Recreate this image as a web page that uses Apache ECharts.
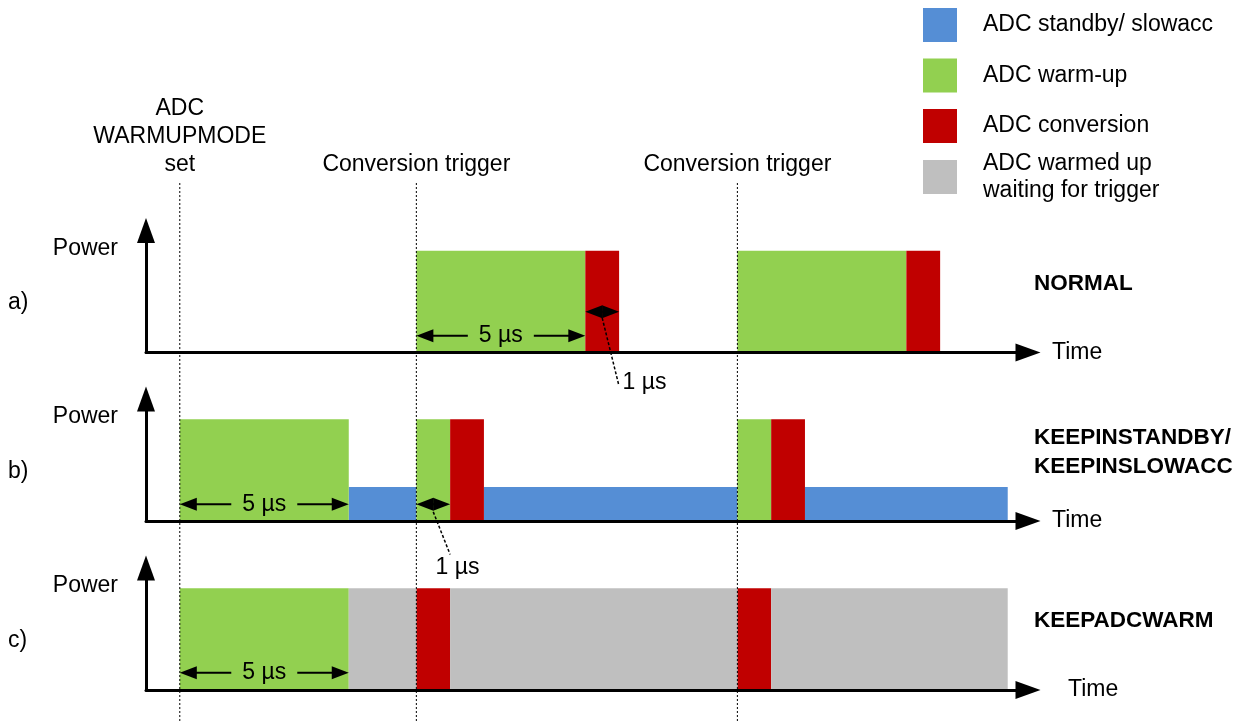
<!DOCTYPE html>
<html>
<head>
<meta charset="utf-8">
<title>ADC warm-up modes</title>
<script src="https://cdn.jsdelivr.net/npm/echarts@6/dist/echarts.min.js"></script>
<style>
  html, body { margin: 0; padding: 0; background: #fff; }
  #chart { width: 1252px; height: 721px; }
</style>
</head>
<body>
<div id="chart"></div>
<script>
// ADC states, in legend order
const stateNames = ['ADC standby/ slowacc', 'ADC warm-up', 'ADC conversion', 'ADC warmed up\nwaiting for trigger'];
const stateColors = ['#558ed5', '#92d050', '#c00000', '#bfbfbf'];
const stateLevels = [1 / 3, 1, 1, 1];

// segments per mode: [start µs, end µs, state index]
const normalSegments = [[7, 12, 1], [12, 13, 2], [16.5, 21.5, 1], [21.5, 22.5, 2]];
const standbySegments = [[0, 5, 1], [5, 7, 0], [7, 8, 1], [8, 9, 2], [9, 16.5, 0], [16.5, 17.5, 1], [17.5, 18.5, 2], [18.5, 24.5, 0]];
const warmSegments = [[0, 5, 1], [5, 7, 3], [7, 8, 2], [8, 16.5, 3], [16.5, 17.5, 2], [17.5, 24.5, 3]];

const panelLetters = ['a)', 'b)', 'c)'];
const modeLabels = ['NORMAL', 'KEEPINSTANDBY/\nKEEPINSLOWACC', 'KEEPADCWARM'];

// dotted event markers
const markerTimes = [0, 7, 16.5];
const markerLabels = ['ADC\nWARMUPMODE\nset', 'Conversion trigger', 'Conversion trigger'];

// dimension arrows: [from µs, to µs, level, label]
const normalDims = [[7, 12, 0.165, '5 µs'], [12, 13, 0.4, '']];
const standbyDims = [[0, 5, 0.165, '5 µs'], [7, 8, 0.165, '']];
const warmDims = [[0, 5, 0.17, '5 µs']];

// leader notes: [from µs, from level, to µs, to level, text µs, text level, text]
const normalNotes = [[12.5, 0.34, 12.99, -0.32, 13.1, -0.3, '1 µs']];
const standbyNotes = [[7.5, 0.09, 8.0, -0.33, 7.57, -0.46, '1 µs']];
const warmNotes = [];

const FONT = '"Liberation Sans", Arial, sans-serif';
const baselines = [352.5, 521, 690];
const axisH = 122;
const gridLeft = 146;
const gridWidth = 882;

const panels = [
    { segs: normalSegments, dims: normalDims, notes: normalNotes },
    { segs: standbySegments, dims: standbyDims, notes: standbyNotes },
    { segs: warmSegments, dims: warmDims, notes: warmNotes }
];

const chart = echarts.init(document.getElementById('chart'));

function renderBlock(params, api) {
    const p0 = api.coord([api.value(0), api.value(2)]);
    const p1 = api.coord([api.value(1), 0]);
    return {
        type: 'rect',
        shape: { x: p0[0], y: p0[1], width: p1[0] - p0[0], height: p1[1] - p0[1] },
        style: { fill: api.visual('color') }
    };
}

function arrowHead(tip, dir, len, half) {
    return {
        type: 'polygon',
        shape: { points: [[tip[0], tip[1]], [tip[0] - dir * len, tip[1] - half], [tip[0] - dir * len, tip[1] + half]] },
        style: { fill: '#000' }
    };
}

function makeDimRenderer(list) {
    return function (params, api) {
        const d = list[params.dataIndex];
        const a = api.coord([d[0], d[2]]);
        const b = api.coord([d[1], d[2]]);
        const mid = (a[0] + b[0]) / 2;
        const gap = d[3] ? 33 : 0;
        const lineStyle = { stroke: '#000', lineWidth: 2 };
        const children = [
            { type: 'line', shape: { x1: a[0] + 8, y1: a[1], x2: mid - gap, y2: a[1] }, style: lineStyle },
            { type: 'line', shape: { x1: mid + gap, y1: a[1], x2: b[0] - 8, y2: a[1] }, style: lineStyle },
            arrowHead(a, -1, 17, 6.5),
            arrowHead(b, 1, 17, 6.5)
        ];
        if (d[3]) {
            children.push({
                type: 'text',
                style: { text: d[3], x: mid, y: a[1], align: 'center', verticalAlign: 'middle', fontSize: 23, fontFamily: FONT, fill: '#000' }
            });
        }
        return { type: 'group', children: children };
    };
}

function makeNoteRenderer(list) {
    return function (params, api) {
        const n = list[params.dataIndex];
        const a = api.coord([n[0], n[1]]);
        const b = api.coord([n[2], n[3]]);
        const t = api.coord([n[4], n[5]]);
        return {
            type: 'group',
            children: [
                { type: 'line', shape: { x1: a[0], y1: a[1], x2: b[0], y2: b[1] }, style: { stroke: '#000', lineWidth: 1.5, lineDash: [3, 2] } },
                { type: 'text', style: { text: n[6], x: t[0], y: t[1], align: 'left', verticalAlign: 'middle', fontSize: 23, fontFamily: FONT, fill: '#000' } }
            ]
        };
    };
}

function renderMarker(params, api) {
    const top = api.coord([api.value(0), 1]);
    const bottom = api.coord([api.value(0), 0]);
    return {
        type: 'group',
        children: [
            { type: 'line', shape: { x1: top[0], y1: top[1], x2: bottom[0], y2: bottom[1] }, style: { stroke: '#000', lineWidth: 1, lineDash: [2, 2] } },
            {
                type: 'text',
                style: {
                    text: markerLabels[params.dataIndex], x: top[0], y: top[1] - 4,
                    align: 'center', verticalAlign: 'bottom', lineHeight: 28,
                    fontSize: 23, fontFamily: FONT, fill: '#000'
                }
            }
        ]
    };
}

const grids = baselines.map(b => ({ left: gridLeft, width: gridWidth, top: b - axisH, height: axisH, outerBoundsMode: 'none' }));
grids.push({ left: gridLeft, width: gridWidth, top: 183, bottom: 0, outerBoundsMode: 'none' });

const nameStyle = { fontSize: 23, fontFamily: FONT, color: '#000' };

const xAxes = baselines.map((b, i) => ({
    gridIndex: i, type: 'value', min: -1, max: 25.1, z: 5,
    axisLine: { onZero: false, lineStyle: { color: '#000', width: 3 }, symbol: ['none', 'triangle'], symbolSize: [18, 25] },
    axisTick: { show: false }, axisLabel: { show: false }, splitLine: { show: false },
    name: 'Time', nameLocation: 'end', nameGap: i === 2 ? 40 : 24, nameTextStyle: nameStyle
}));
xAxes.push({ gridIndex: 3, type: 'value', min: -1, max: 25.1, show: false });

const yAxes = baselines.map((b, i) => ({
    gridIndex: i, type: 'value', min: 0, max: 1.2, z: 5,
    axisLine: { show: true, onZero: false, lineStyle: { color: '#000', width: 3 }, symbol: ['none', 'triangle'], symbolSize: [18, 25] },
    axisTick: { show: false }, axisLabel: { show: false }, splitLine: { show: false },
    name: 'Power', nameLocation: 'end', nameGap: -18,
    nameTextStyle: Object.assign({ align: 'right', verticalAlign: 'middle', padding: [0, 28, 0, 0] }, nameStyle)
}));
yAxes.push({ gridIndex: 3, type: 'value', min: 0, max: 1, show: false });

const series = [];
panels.forEach((p, i) => {
    stateNames.forEach((name, s) => {
        const segs = p.segs.filter(g => g[2] === s);
        if (!segs.length) return;
        series.push({
            type: 'custom', name: name, xAxisIndex: i, yAxisIndex: i, z: 2, silent: true,
            itemStyle: { color: stateColors[s] },
            data: segs.map(g => [g[0], g[1], stateLevels[s]]),
            renderItem: renderBlock
        });
    });
    series.push({
        type: 'custom', xAxisIndex: i, yAxisIndex: i, z: 6, silent: true,
        data: p.dims.map(d => [d[0], d[1], d[2]]),
        renderItem: makeDimRenderer(p.dims)
    });
    if (p.notes.length) {
        series.push({
            type: 'custom', xAxisIndex: i, yAxisIndex: i, z: 6, silent: true,
            data: p.notes.map(n => [n[0], n[1]]),
            renderItem: makeNoteRenderer(p.notes)
        });
    }
});
series.push({
    type: 'custom', xAxisIndex: 3, yAxisIndex: 3, z: 7, silent: true,
    data: markerTimes.map(t => [t, 0]),
    renderItem: renderMarker
});

const legendBase = {
    orient: 'vertical', left: 923, padding: 0, icon: 'rect',
    itemWidth: 34, itemHeight: 34, itemGap: 16.5, selectedMode: false,
    textStyle: { fontSize: 23, fontFamily: FONT, color: '#000', padding: [0, 0, 0, 21], lineHeight: 27 }
};

const graphics = [];
baselines.forEach((b, i) => {
    graphics.push({
        type: 'text', x: 8, y: b - 49.5,
        style: { text: panelLetters[i], verticalAlign: 'middle', fontSize: 23, fontFamily: FONT, fill: '#000' }
    });
    graphics.push({
        type: 'text', x: 1034, y: b - 69,
        style: { text: modeLabels[i], verticalAlign: 'middle', lineHeight: 29, fontSize: 22.5, fontWeight: 'bold', fontFamily: FONT, fill: '#000' }
    });
});

chart.setOption({
    animation: false,
    backgroundColor: '#fff',
    grid: grids,
    xAxis: xAxes,
    yAxis: yAxes,
    legend: [
        Object.assign({ top: 8, data: stateNames.slice(0, 3) }, legendBase),
        Object.assign({ top: 150, data: [stateNames[3]] }, legendBase)
    ],
    graphic: graphics,
    series: series
});

window.addEventListener('resize', function () {
    chart.resize();
});
</script>
</body>
</html>
